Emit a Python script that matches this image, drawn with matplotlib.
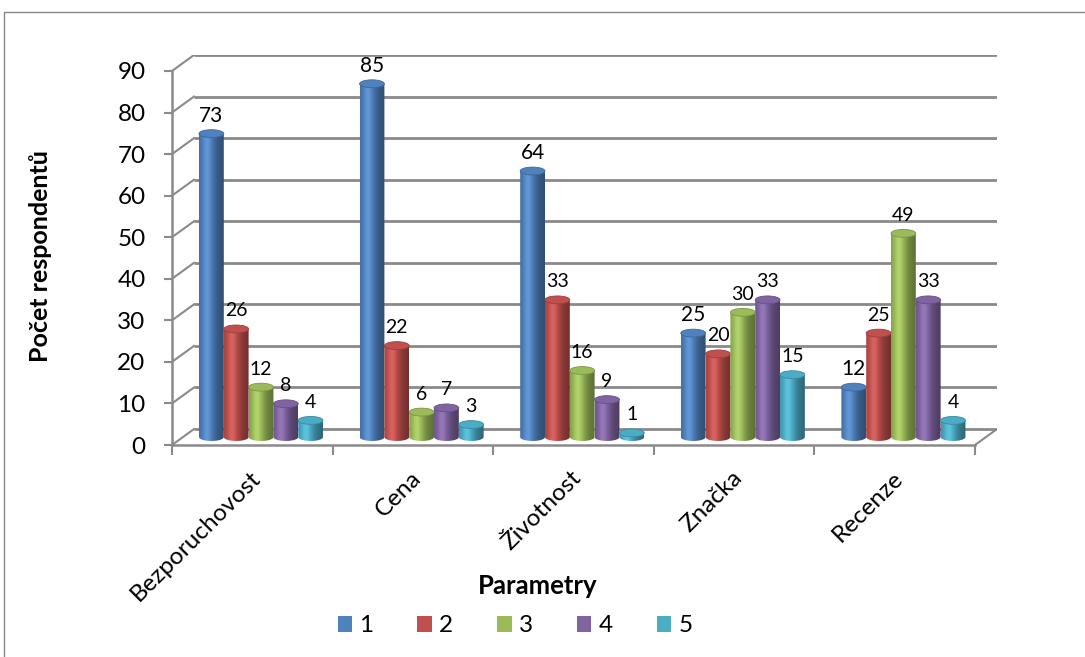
import numpy as np
import matplotlib
matplotlib.use("Agg")
import matplotlib.pyplot as plt
from matplotlib.patches import Ellipse, PathPatch, Rectangle
from matplotlib.path import Path
import matplotlib.colors as mcolors

plt.rcParams['font.family'] = ['Lato', 'DejaVu Sans']

# hodnoty z dotazníku
parametry = ["Bezporuchovost", "Cena", "Životnost", "Značka", "Recenze"]
hodnoceni = ["1", "2", "3", "4", "5"]
h1 = [73, 85, 64, 25, 12]
h2 = [26, 22, 33, 20, 25]
h3 = [12, 6, 16, 30, 49]
h4 = [8, 7, 9, 33, 33]
h5 = [4, 3, 1, 15, 4]
serie = [h1, h2, h3, h4, h5]
barvy = ["#4F81BD", "#C0504D", "#9BBB59", "#8064A2", "#4BACC6"]
y_ticks = list(range(0, 91, 10))

W, H = 1085, 657
fig = plt.figure(figsize=(W / 100, H / 100), dpi=100)

# ramecek grafu
fig.add_artist(Rectangle((4 / W, -0.5), 1.5, 1 - 12 / H + 0.5, transform=fig.transFigure,
                         fill=False, edgecolor="#888888", lw=1.0))

# hloubka 3D efektu (v jednotkach dat)
DX = 0.137
DY = 3.84
sirka = 0.1545
odsazeni = 0.168
elipsa_h = 1.9

ax = fig.add_axes([172 / W, 1 - 445 / H, (997 - 172) / W, (445 - 55) / H])
ax.set_xlim(0, 5 + DX)
ax.set_ylim(0, 90 + DY)
ax.patch.set_alpha(0)

seda = "#8a8a8a"
# zadni stena - mrizka a sikme cary k ose
for yv in y_ticks:
    ax.plot([DX, 5 + DX], [yv + DY, yv + DY], color=seda, lw=2.0, zorder=1, solid_capstyle='butt')
    ax.plot([0, DX], [yv, yv + DY], color=seda, lw=1.5, zorder=1)
# podlaha vpravo
ax.plot([5, 5 + DX], [0, DY], color=seda, lw=1.5, zorder=1)

for s in ["top", "right"]:
    ax.spines[s].set_visible(False)
ax.spines["left"].set_bounds(0, 90)
ax.spines["bottom"].set_bounds(0, 5)
for s in ["left", "bottom"]:
    ax.spines[s].set_color(seda)
    ax.spines[s].set_linewidth(1.8)
    ax.spines[s].set_zorder(2)

ax.set_yticks(y_ticks)
ax.set_yticklabels([str(v) for v in y_ticks], fontsize=17.5)
ax.tick_params(axis="y", length=6, width=1.5, color=seda, pad=13)
ax.set_xticks(range(0, 6))
ax.set_xticklabels([])
ax.tick_params(axis="x", length=7, width=1.5, color=seda)


def stin(barva, t):
    r, g, b = mcolors.to_rgb(barva)
    f = 0.78 + 0.34 * np.exp(-((t - 0.33) / 0.28) ** 2) - 0.18 * t ** 2
    c = np.array([r, g, b])[None, :] * f[:, None]
    over = np.clip(f - 1, 0, None)[:, None]
    c = c + (1 - np.array([r, g, b])[None, :]) * over * 0.6
    return np.clip(c, 0, 1)


t = np.linspace(0, 1, 64)
for i, (vals, barva) in enumerate(zip(serie, barvy)):
    grad = stin(barva, t)[None, :, :]
    for c, v in enumerate(vals):
        x0 = c + odsazeni + i * sirka
        cx = x0 + sirka / 2
        yb = DY / 2
        yt = v + DY / 2
        # telo valce se spodni polovinou elipsy
        th = np.linspace(np.pi, 2 * np.pi, 30)
        pts = [(x0, yt), (x0, yb)]
        pts += list(zip(cx + sirka / 2 * np.cos(th), yb + elipsa_h / 2 * np.sin(th)))
        pts += [(x0 + sirka, yt), (x0, yt)]
        cesta = Path(pts, [Path.MOVETO] + [Path.LINETO] * (len(pts) - 2) + [Path.CLOSEPOLY])
        klip = PathPatch(cesta, transform=ax.transData, facecolor="none", edgecolor="none")
        ax.add_patch(klip)
        im = ax.imshow(grad, extent=[x0, x0 + sirka, yb - elipsa_h / 2, yt], aspect="auto",
                       interpolation="bilinear", zorder=3 + i)
        im.set_clip_path(klip)
        # horni podstava
        horni = mcolors.to_rgb(barva)
        ax.add_patch(Ellipse((cx, yt), sirka, elipsa_h, facecolor=horni,
                             edgecolor=tuple(np.array(horni) * 0.8), lw=0.6, zorder=3.5 + i))
        ax.annotate(str(v), (cx, yt), xytext=(0, 13), textcoords="offset points",
                    ha="center", va="center", fontsize=15 if i == 0 else 14, zorder=10)

ax.set_xlim(0, 5 + DX)
ax.set_ylim(0, 90 + DY)

# popisky kategorii
for c, nazev in enumerate(parametry):
    ax.annotate(nazev, (c + 0.5, 0), xytext=(-2, -16), textcoords="offset points",
                ha="right", va="top", rotation=45, rotation_mode="anchor", fontsize=17.5)

fig.text(41 / W, 1 - 256 / H, "Počet respondentů", rotation=90, ha="center", va="center",
         fontsize=18, fontweight="bold")
fig.text(538 / W, 1 - 586 / H, "Parametry", ha="center", va="center",
         fontsize=18.5, fontweight="bold")

handles = [Rectangle((0, 0), 1, 1, facecolor=b) for b in barvy]
fig.legend(handles, hodnoceni, loc="center", bbox_to_anchor=(515 / W, 1 - 626 / H), ncol=5,
           frameon=False, fontsize=17.5, handlelength=0.6, handleheight=0.6,
           handletextpad=0.3, columnspacing=1.8)

fig.savefig("out.png", dpi=100, facecolor="white")
